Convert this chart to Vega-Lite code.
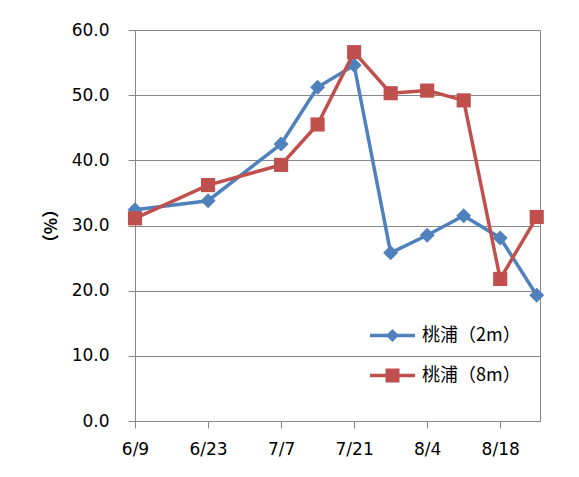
{
  "$schema": "https://vega.github.io/schema/vega-lite/v6.json",
  "width": 405,
  "height": 391,
  "padding": {"left": 42, "top": 21, "right": 5, "bottom": 5},
  "background": "white",
  "config": {
    "view": {"stroke": "#878787", "strokeWidth": 1},
    "axis": {
      "labelFont": "DejaVu Sans",
      "labelFontSize": 17,
      "labelColor": "#000000",
      "domainColor": "#878787",
      "tickColor": "#878787",
      "gridColor": "#878787",
      "tickSize": 7,
      "domainWidth": 1,
      "tickWidth": 1,
      "gridWidth": 1
    }
  },
  "data": {
    "values": [
      {"date": "2013-06-09", "series": "桃浦（2m）", "value": 32.4},
      {"date": "2013-06-23", "series": "桃浦（2m）", "value": 33.8},
      {"date": "2013-07-07", "series": "桃浦（2m）", "value": 42.5},
      {"date": "2013-07-14", "series": "桃浦（2m）", "value": 51.2},
      {"date": "2013-07-21", "series": "桃浦（2m）", "value": 54.6},
      {"date": "2013-07-28", "series": "桃浦（2m）", "value": 25.8},
      {"date": "2013-08-04", "series": "桃浦（2m）", "value": 28.5},
      {"date": "2013-08-11", "series": "桃浦（2m）", "value": 31.5},
      {"date": "2013-08-18", "series": "桃浦（2m）", "value": 28.1},
      {"date": "2013-08-25", "series": "桃浦（2m）", "value": 19.3},
      {"date": "2013-06-09", "series": "桃浦（8m）", "value": 31.1},
      {"date": "2013-06-23", "series": "桃浦（8m）", "value": 36.2},
      {"date": "2013-07-07", "series": "桃浦（8m）", "value": 39.3},
      {"date": "2013-07-14", "series": "桃浦（8m）", "value": 45.5},
      {"date": "2013-07-21", "series": "桃浦（8m）", "value": 56.6},
      {"date": "2013-07-28", "series": "桃浦（8m）", "value": 50.3},
      {"date": "2013-08-04", "series": "桃浦（8m）", "value": 50.7},
      {"date": "2013-08-11", "series": "桃浦（8m）", "value": 49.2},
      {"date": "2013-08-18", "series": "桃浦（8m）", "value": 21.8},
      {"date": "2013-08-25", "series": "桃浦（8m）", "value": 31.3}
    ]
  },
  "encoding": {
    "x": {
      "field": "date",
      "type": "temporal",
      "scale": {"type": "utc", "domain": ["2013-06-09T00:00:00Z", "2013-08-25T15:00:00Z"], "nice": false},
      "axis": {
        "title": null,
        "grid": false,
        "values": [
          {"year": 2013, "month": 6, "date": 9, "utc": true},
          {"year": 2013, "month": 6, "date": 23, "utc": true},
          {"year": 2013, "month": 7, "date": 7, "utc": true},
          {"year": 2013, "month": 7, "date": 21, "utc": true},
          {"year": 2013, "month": 8, "date": 4, "utc": true},
          {"year": 2013, "month": 8, "date": 18, "utc": true}
        ],
        "labelExpr": "utcFormat(datum.value, '%-m/%-d')",
        "labelOverlap": false,
        "labelFlush": false,
        "labelPadding": 13
      }
    },
    "y": {
      "field": "value",
      "type": "quantitative",
      "scale": {"domain": [0, 60], "nice": false, "zero": true},
      "axis": {
        "title": "（%）",
        "titleFont": "Noto Sans CJK JP",
        "titleFontSize": 17,
        "titleFontWeight": "bold",
        "titleColor": "#000000",
        "titlePadding": 11,
        "values": [0, 10, 20, 30, 40, 50, 60],
        "format": ".1f",
        "labelPadding": 19,
        "grid": true
      }
    },
    "color": {
      "field": "series",
      "type": "nominal",
      "scale": {"domain": ["桃浦（2m）", "桃浦（8m）"], "range": ["#4F81BD", "#C0504D"]},
      "legend": {
        "orient": "none",
        "legendX": 248,
        "legendY": 296,
        "title": null,
        "padding": 0,
        "labelFont": "Noto Sans CJK JP",
        "labelFontSize": 18,
        "labelColor": "#000000",
        "labelOffset": 20,
        "rowPadding": 16,
        "symbolSize": 225,
        "symbolStrokeWidth": 3.5,
        "encode": {
          "symbols": {
            "update": {
              "shape": {"signal": "datum.value === '桃浦（2m）' ? 'M-3,0H3M-0.55,0L0,-0.55L0.55,0L0,0.55Z' : 'M-3,0H3M-0.7,-0.7H0.7V0.7H-0.7Z'"},
              "stroke": {"signal": "datum.value === '桃浦（2m）' ? '#4F81BD' : '#C0504D'"},
              "fill": {"signal": "datum.value === '桃浦（2m）' ? '#4F81BD' : '#C0504D'"},
              "strokeWidth": {"value": 3.5},
              "opacity": {"value": 1}
            }
          }
        }
      }
    }
  },
  "layer": [
    {
      "transform": [{"filter": "datum.series === '桃浦（2m）'"}],
      "mark": {"type": "line", "strokeWidth": 3.5}
    },
    {
      "transform": [{"filter": "datum.series === '桃浦（2m）'"}],
      "mark": {"type": "point", "filled": true, "opacity": 1, "shape": "diamond", "size": 225}
    },
    {
      "transform": [{"filter": "datum.series === '桃浦（8m）'"}],
      "mark": {"type": "line", "strokeWidth": 3.5}
    },
    {
      "transform": [{"filter": "datum.series === '桃浦（8m）'"}],
      "mark": {"type": "point", "filled": true, "opacity": 1, "shape": "square", "size": 200}
    }
  ]
}
